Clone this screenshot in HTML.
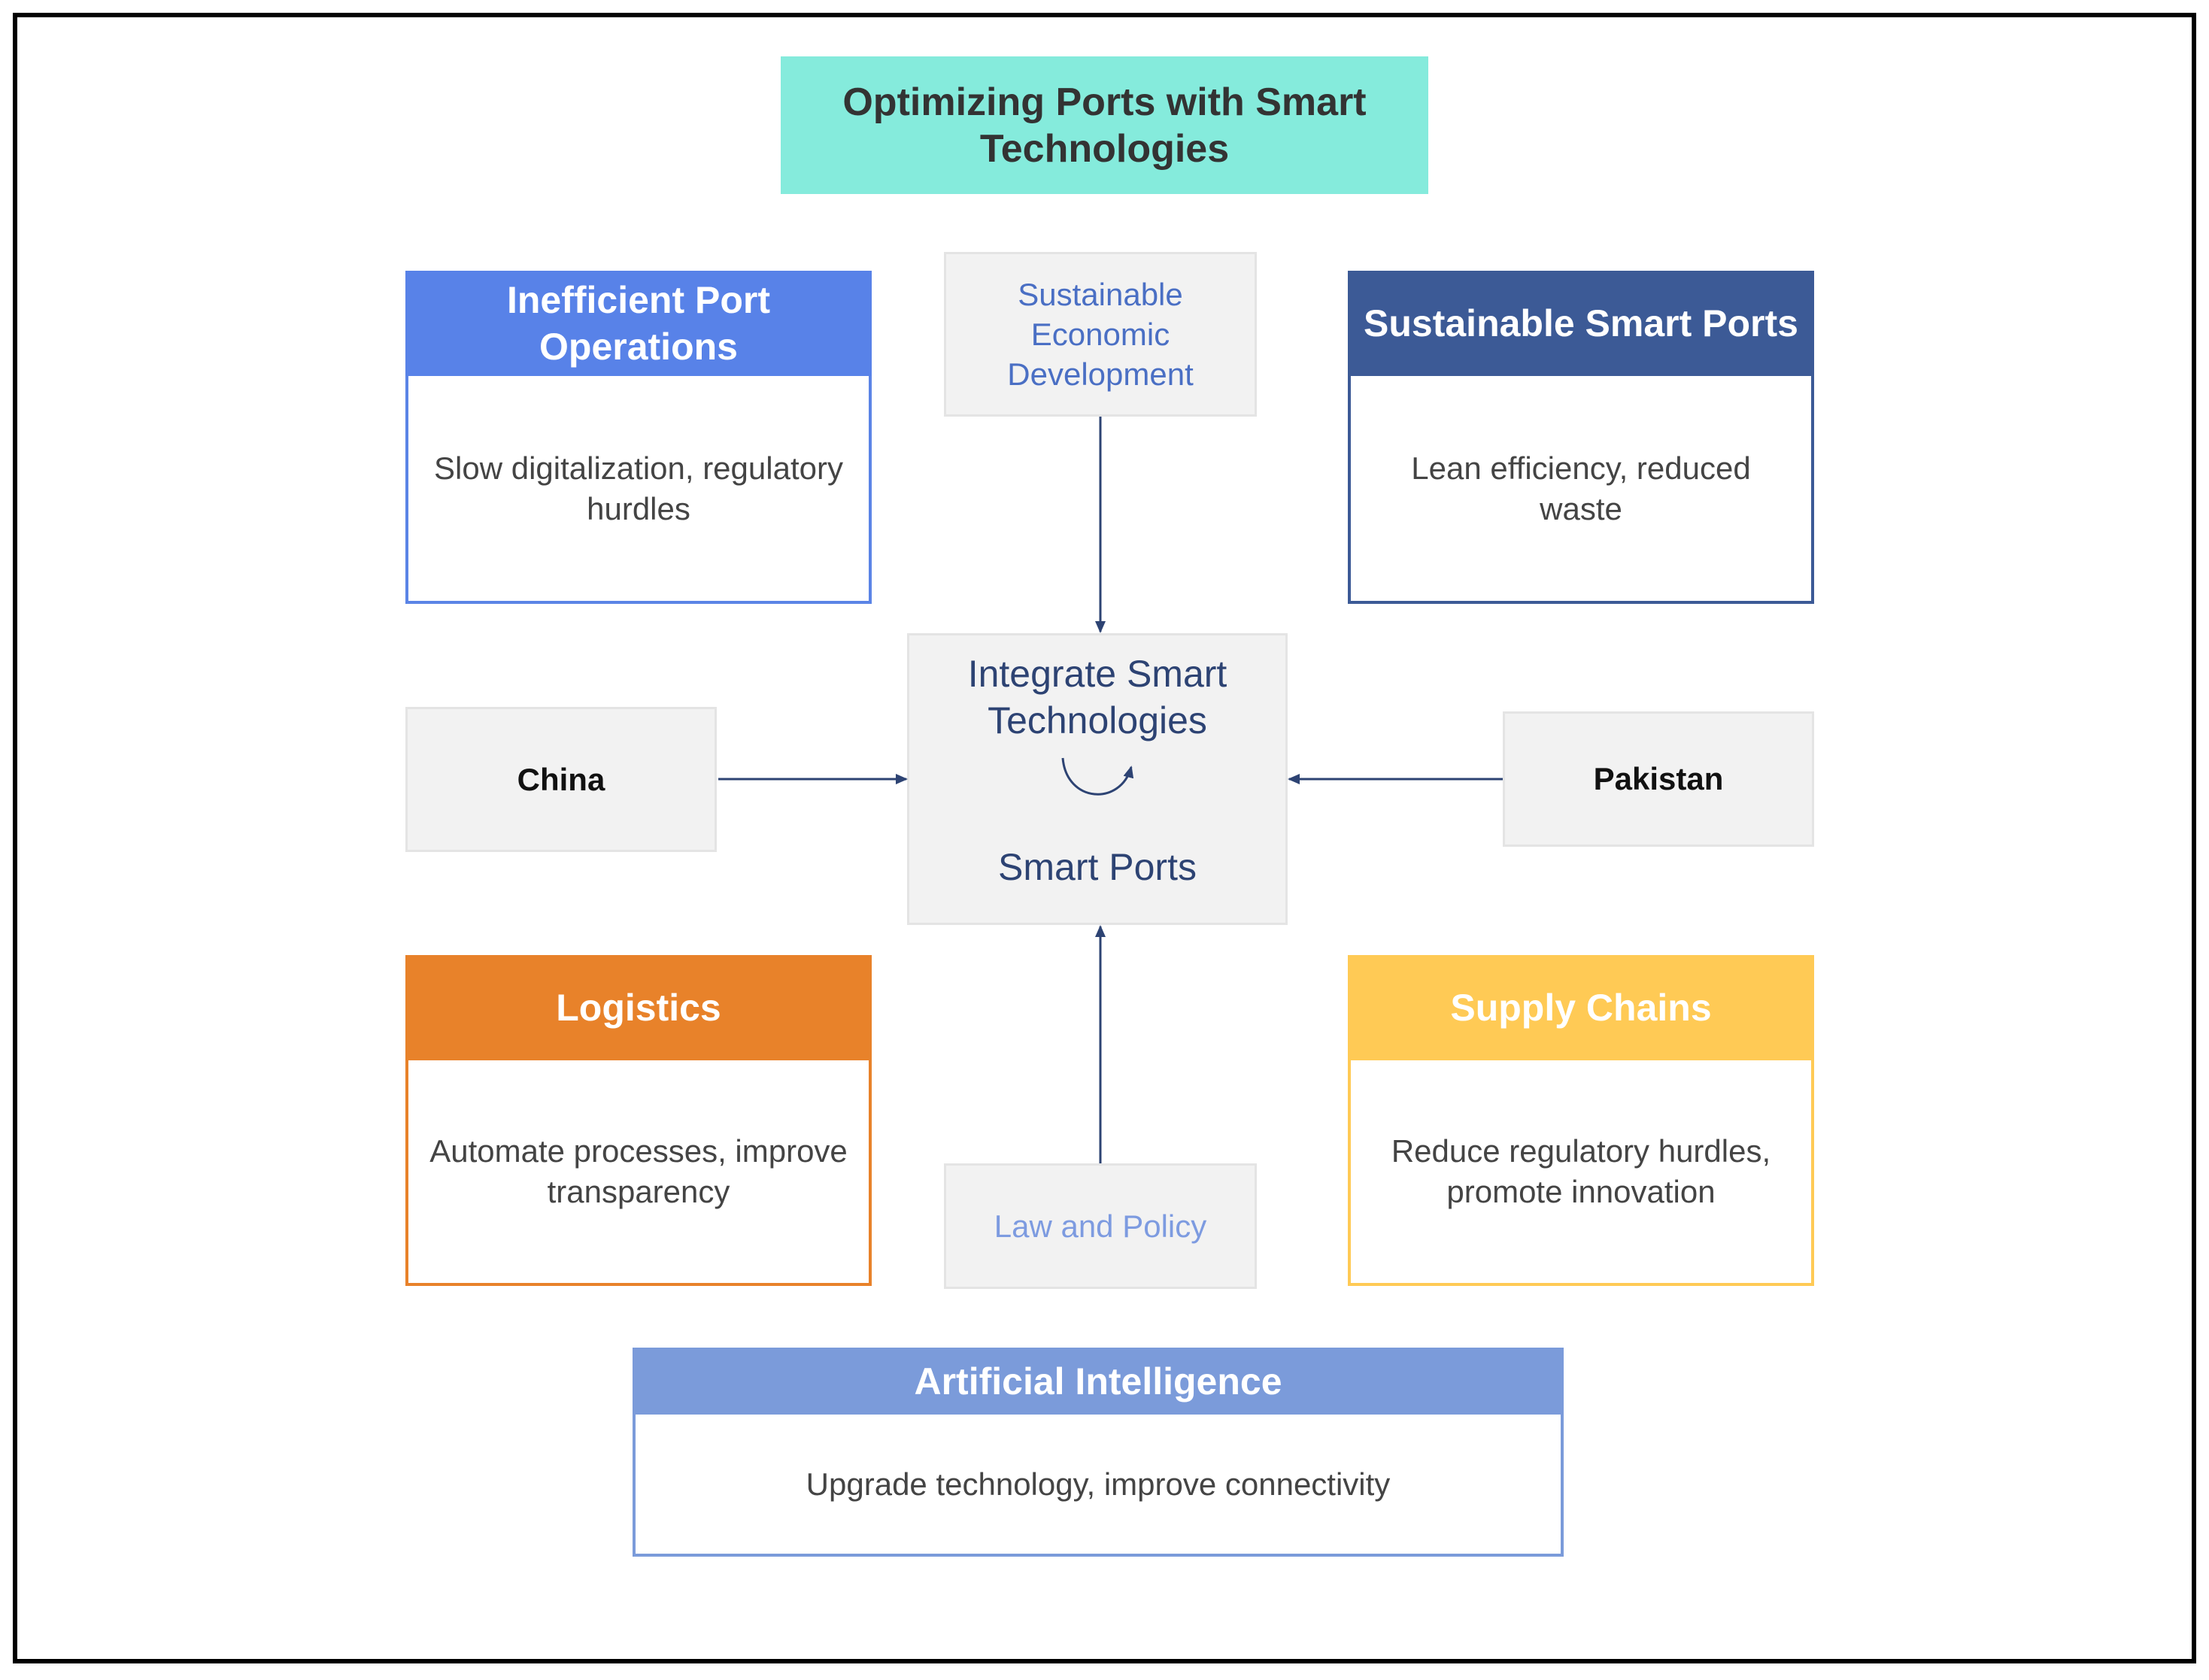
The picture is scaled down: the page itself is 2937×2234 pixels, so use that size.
<!DOCTYPE html>
<html><head><meta charset="utf-8"><style>
body{margin:0;width:2937px;height:2234px;background:#fff;position:relative;overflow:hidden;font-family:"Liberation Sans",sans-serif}
.a{position:absolute;box-sizing:border-box}
.c{display:flex;align-items:center;justify-content:center;text-align:center}
.card{border:4px solid;background:#fff}
.hd{position:absolute;left:-4px;right:-4px;top:-4px;color:#fff;font-weight:bold;font-size:50px;line-height:62px}
.bd{position:absolute;left:0;right:0;bottom:0;color:#444;font-size:42px;line-height:54px}
.gray{background:#f2f2f2;border:3px solid #e4e4e4}
</style></head><body>
<div class="a" style="left:17px;top:17px;width:2903px;height:2195px;border:6px solid #000"></div>
<div class="a c" style="left:1038px;top:75px;width:861px;height:183px;background:#85EBDC;color:#333;font-weight:bold;font-size:52px;line-height:62px">Optimizing Ports with Smart<br>Technologies</div>

<div class="a card" style="left:539px;top:360px;width:620px;height:443px;border-color:#5B84E6">
<div class="hd c" style="height:140px;background:#5882E8">Inefficient Port<br>Operations</div>
<div class="bd c" style="top:136px">Slow digitalization, regulatory<br>hurdles</div></div>

<div class="a card" style="left:1792px;top:360px;width:620px;height:443px;border-color:#3C5A96">
<div class="hd c" style="height:140px;background:#3C5A96">Sustainable Smart Ports</div>
<div class="bd c" style="top:136px">Lean efficiency, reduced<br>waste</div></div>

<div class="a card" style="left:539px;top:1270px;width:620px;height:440px;border-color:#E8822A">
<div class="hd c" style="height:140px;background:#E8822A">Logistics</div>
<div class="bd c" style="top:136px">Automate processes, improve<br>transparency</div></div>

<div class="a card" style="left:1792px;top:1270px;width:620px;height:440px;border-color:#FFCA55">
<div class="hd c" style="height:140px;background:#FFCA55">Supply Chains</div>
<div class="bd c" style="top:136px">Reduce regulatory hurdles,<br>promote innovation</div></div>

<div class="a card" style="left:841px;top:1792px;width:1238px;height:278px;border-color:#7B9BDA">
<div class="hd c" style="height:89px;background:#7B9BDA">Artificial Intelligence</div>
<div class="bd c" style="top:85px">Upgrade technology, improve connectivity</div></div>

<div class="a c gray" style="left:1255px;top:335px;width:416px;height:219px;color:#4A6FC4;font-size:42px;line-height:53px">Sustainable<br>Economic<br>Development</div>
<div class="a c gray" style="left:1255px;top:1547px;width:416px;height:167px;color:#7D9BE0;font-size:42px">Law and Policy</div>
<div class="a c gray" style="left:539px;top:940px;width:414px;height:193px;color:#111;font-weight:bold;font-size:42px">China</div>
<div class="a c gray" style="left:1998px;top:946px;width:414px;height:180px;color:#111;font-weight:bold;font-size:42px">Pakistan</div>

<div class="a gray" style="left:1206px;top:842px;width:506px;height:388px;color:#2D4373;text-align:center;font-size:50px;line-height:62px">
<div style="position:absolute;left:0;right:0;top:20px">Integrate Smart<br>Technologies</div>
<div style="position:absolute;left:0;right:0;top:277px">Smart Ports</div></div>

<svg class="a" style="left:0;top:0" width="2937" height="2234">
<defs><marker id="m" markerWidth="8" markerHeight="8" refX="7" refY="4" orient="auto" markerUnits="userSpaceOnUse"><path d="M0,0L8,4L0,8z" fill="#2D4373" transform="scale(1)"/></marker>
<marker id="M" markerWidth="16" markerHeight="14" refX="14" refY="7" orient="auto" markerUnits="userSpaceOnUse"><path d="M0,0L16,7L0,14z" fill="#2D4373"/></marker></defs>
<g stroke="#2D4373" stroke-width="3" fill="none">
<line x1="1463" y1="554" x2="1463" y2="840" marker-end="url(#M)"/>
<line x1="1463" y1="1547" x2="1463" y2="1232" marker-end="url(#M)"/>
<line x1="955" y1="1036" x2="1205" y2="1036" marker-end="url(#M)"/>
<line x1="1998" y1="1036" x2="1714" y2="1036" marker-end="url(#M)"/>
<path d="M1413,1008 C1418,1068 1490,1072 1504,1020" marker-end="url(#M)"/>
</g></svg>
</body></html>
